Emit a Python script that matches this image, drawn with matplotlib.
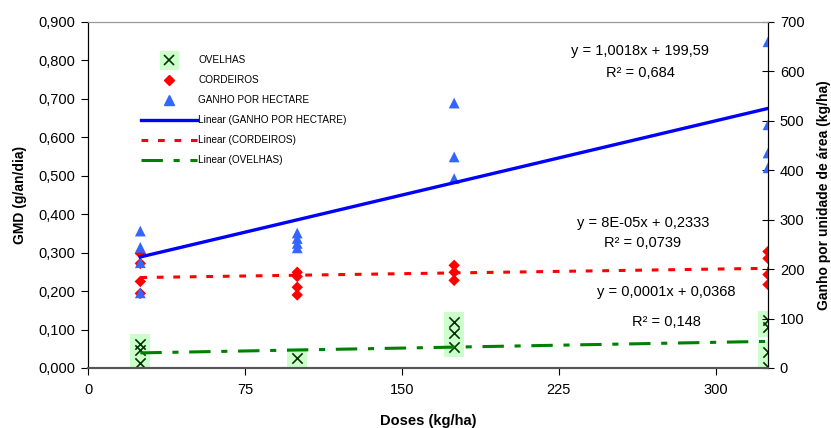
import matplotlib.pyplot as plt
import numpy as np
from matplotlib.ticker import FuncFormatter
from matplotlib.lines import Line2D

plt.rcParams['font.family'] = ['Liberation Sans', 'DejaVu Sans']

ovelhas_x = [25, 25, 25, 100, 175, 175, 175, 325, 325, 325, 325]
ovelhas_y = [0.062, 0.048, 0.013, 0.026, 0.119, 0.091, 0.054, 0.124, 0.106, 0.041, 0.003]

cordeiros_x = [25, 25, 25, 25, 100, 100, 100, 100, 175, 175, 175, 325, 325, 325, 325]
cordeiros_y = [0.298, 0.272, 0.225, 0.194, 0.249, 0.238, 0.210, 0.190,
               0.267, 0.249, 0.228, 0.303, 0.285, 0.243, 0.217]

ganho_x = [25, 25, 25, 25, 100, 100, 100, 100, 175, 175, 175, 325, 325, 325, 325]
ganho_y = [277, 244, 213, 152, 273, 262, 252, 243, 536, 427, 383, 660, 492, 435, 405]

# trendline equations printed on the chart (slope, intercept)
ganho_fit = (1.0018, 199.59)
cordeiros_fit = (8e-05, 0.2333)
ovelhas_fit = (0.0001, 0.0368)

x_fit = np.array([25, 325])

fig = plt.figure(figsize=(8.31, 4.28), dpi=100)
ax = fig.add_axes([0.1059, 0.1402, 0.8183, 0.8084])
ax2 = ax.twinx()

# ovelhas: x marker over a pale green square
ax.scatter(ovelhas_x, ovelhas_y, marker='s', s=200, color='#ccffcc', edgecolors='none', zorder=2)
ax.scatter(ovelhas_x, ovelhas_y, marker='x', s=55, color='#003300', linewidths=1.2, zorder=3)
ax.scatter(cordeiros_x, cordeiros_y, marker='D', s=34, color='#ff0000', edgecolors='none', zorder=3)

lw = 2.2
red_ls = (0, (2.2, 3.2))
green_ls = (0, (7, 3.5, 2, 3.5))
ax.plot(x_fit, cordeiros_fit[0] * x_fit + cordeiros_fit[1], color='#ff0000', lw=lw,
        linestyle=red_ls, zorder=4)
ax.plot(x_fit, ovelhas_fit[0] * x_fit + ovelhas_fit[1], color='#008000', lw=lw,
        linestyle=green_ls, zorder=4)

ax2.scatter(ganho_x, ganho_y, marker='^', s=60, color='#3366ff', edgecolors='none', zorder=3)
ax2.plot(x_fit, ganho_fit[0] * x_fit + ganho_fit[1], color='#0000ff', lw=2.4, zorder=4)

ax.set_xlim(0, 325)
ax.set_ylim(0, 0.9)
ax2.set_ylim(0, 700)
ax.set_xticks([0, 75, 150, 225, 300])
ax.set_yticks(np.arange(0, 0.91, 0.1))
ax2.set_yticks(range(0, 701, 100))
ax.yaxis.set_major_formatter(FuncFormatter(lambda v, p: f'{v:.3f}'.replace('.', ',')))

for a in (ax, ax2):
    a.spines['top'].set_color('#999999')
    a.spines['bottom'].set_color('#555555')
    a.spines['bottom'].set_linewidth(1.5)
    a.spines['left'].set_color('black')
    a.spines['right'].set_color('black')

ax.tick_params(axis='y', direction='out', length=5, labelsize=10.5, pad=4)
ax.tick_params(axis='x', direction='out', length=5, labelsize=10.5, pad=6)
ax2.tick_params(axis='y', direction='inout', length=9, labelsize=10.5, pad=4)

ax.set_ylabel('GMD (g/an/dia)', fontsize=10, fontweight='bold', labelpad=8)
ax2.set_ylabel('Ganho por unidade de área (kg/ha)', fontsize=10, fontweight='bold', labelpad=9)
ax.set_xlabel('Doses (kg/ha)', fontsize=10.5, fontweight='bold', labelpad=12)

# equation labels (axes fraction)
eq_kw = dict(transform=ax.transAxes, ha='center', va='center', fontsize=10.5)
ax2.text(0.812, 0.916, 'y = 1,0018x + 199,59', **eq_kw)
ax2.text(0.812, 0.853, 'R² = 0,684', **eq_kw)
ax2.text(0.816, 0.419, 'y = 8E-05x + 0,2333', **eq_kw)
ax2.text(0.816, 0.361, 'R² = 0,0739', **eq_kw)
ax2.text(0.850, 0.220, 'y = 0,0001x + 0,0368', **eq_kw)
ax2.text(0.850, 0.133, 'R² = 0,148', **eq_kw)

# legend with proxy handles
handles = [
    (Line2D([], [], marker='s', ms=13, color='#ccffcc', ls='none'),
     Line2D([], [], marker='x', ms=7, color='#003300', mew=1.2, ls='none')),
    Line2D([], [], marker='D', ms=5, color='#ff0000', ls='none'),
    Line2D([], [], marker='^', ms=7, color='#3366ff', ls='none'),
    Line2D([], [], color='#0000ff', lw=2.4),
    Line2D([], [], color='#ff0000', lw=lw, ls=red_ls),
    Line2D([], [], color='#008000', lw=lw, ls=green_ls),
]
labels = ['OVELHAS', 'CORDEIROS', 'GANHO POR HECTARE', 'Linear (GANHO POR HECTARE)',
          'Linear (CORDEIROS)', 'Linear (OVELHAS)']
leg = ax2.legend(handles, labels, loc='upper left', bbox_to_anchor=(0.065, 0.93),
                 frameon=False, fontsize=7.2, handlelength=5.6, handletextpad=0.1,
                 labelspacing=1.0)

fig.savefig('out.png', dpi=100)
